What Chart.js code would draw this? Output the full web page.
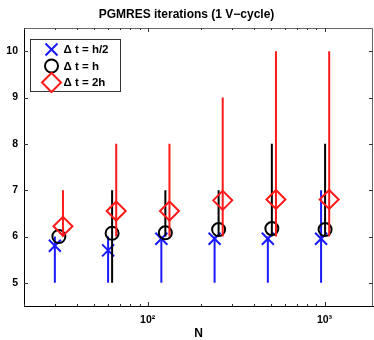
<!DOCTYPE html>
<html>
<head>
<meta charset="utf-8">
<script src="https://cdn.jsdelivr.net/npm/chart.js@4.4.0/dist/chart.umd.min.js"></script>
<style>
  html, body { margin: 0; padding: 0; background: #fff; }
  #wrap { width: 374px; height: 340px; }
</style>
</head>
<body>
<div id="wrap"><canvas id="pgmresChart" width="374" height="340"></canvas></div>
<script>
// problem sizes
const N = [32, 64, 128, 256, 512, 1024];

// dt = h/2
const halfMean = [5.8, 5.7, 5.95, 5.95, 5.95, 5.95];
const halfMin = [5, 5, 5, 5, 5, 5];
const halfMax = [6, 6, 6, 6, 6, 7];

// dt = h
const hMean = [6.0, 6.07, 6.08, 6.15, 6.17, 6.15];
const hMin = [6, 5, 6, 6, 6, 6];
const hMax = [6, 7, 7, 7, 8, 8];

// dt = 2h
const twoHMean = [6.22, 6.55, 6.55, 6.78, 6.8, 6.8];
const twoHMin = [6, 6, 6, 6, 6, 6];
const twoHMax = [7, 8, 8, 9, 10, 10];

const yTicks = [5, 6, 7, 8, 9, 10];
const xTicks = [100, 1000];
const xTickLabels = ['10\u00b2', '10\u00b3'];
const legendLabels = ['\u0394 t = h/2', '\u0394 t = h', '\u0394 t = 2h'];

// series are nudged sideways so the bars don't sit on top of each other
const shift = { half: 0.934, h: 0.984, twoH: 1.038 };

const BLUE = '#1a1aff';
const BLACK = '#000000';
const RED = '#ff1a1a';
const FONT = 'Liberation Sans, Arial, Helvetica, sans-serif';

// vertical min..max lines, broken up with nulls
function barPoints(mins, maxs, f) {
  const pts = [];
  N.forEach((n, i) => {
    pts.push({ x: n * f, y: mins[i] });
    pts.push({ x: n * f, y: maxs[i] });
    pts.push({ x: n * f, y: null });
  });
  return pts;
}

function meanPoints(means, f) {
  return N.map((n, i) => ({ x: n * f, y: means[i] }));
}

function errSet(mins, maxs, f, color, order) {
  return {
    type: 'line',
    data: barPoints(mins, maxs, f),
    borderColor: color,
    borderWidth: 2,
    pointRadius: 0,
    spanGaps: false,
    fill: false,
    order: order
  };
}

function markSet(label, means, f, color, style, radius, order) {
  return {
    label: label,
    type: 'scatter',
    data: meanPoints(means, f),
    borderColor: color,
    backgroundColor: 'rgba(0,0,0,0)',
    pointStyle: style,
    pointRadius: radius,
    pointHoverRadius: radius,
    pointBorderWidth: 2,
    order: order
  };
}

const markers = [
  { color: BLUE, style: 'crossRot', radius: 8.5 },
  { color: BLACK, style: 'circle', radius: 6.5 },
  { color: RED, style: 'rectRot', radius: 9.5 }
];

// box, inward ticks, x labels and legend like the matlab figure
const matlabBox = {
  id: 'matlabBox',
  afterDatasetsDraw(chart) {
    const { ctx, chartArea: a, scales } = chart;
    ctx.save();
    ctx.lineWidth = 1;
    ctx.strokeStyle = '#666';
    ctx.beginPath();
    ctx.moveTo(a.left, a.top + 0.5);
    ctx.lineTo(a.right - 0.5, a.top + 0.5);
    ctx.lineTo(a.right - 0.5, a.bottom);
    ctx.stroke();

    ctx.strokeStyle = '#333';
    ctx.beginPath();
    yTicks.forEach(v => {
      const y = Math.round(scales.y.getPixelForValue(v)) + 0.5;
      ctx.moveTo(a.left, y); ctx.lineTo(a.left + 4, y);
      ctx.moveTo(a.right, y); ctx.lineTo(a.right - 4, y);
    });
    for (let d = 10; d <= 1000; d *= 10) {
      for (let k = 1; k <= 9; k++) {
        const v = d * k;
        if (v < scales.x.min || v > scales.x.max) continue;
        const len = k === 1 ? 4 : 2;
        const x = Math.round(scales.x.getPixelForValue(v)) + 0.5;
        ctx.moveTo(x, a.bottom); ctx.lineTo(x, a.bottom - len);
        ctx.moveTo(x, a.top); ctx.lineTo(x, a.top + len);
      }
    }
    ctx.stroke();

    ctx.fillStyle = '#000';
    ctx.font = 'bold 10.5px ' + FONT;
    ctx.textAlign = 'center';
    ctx.textBaseline = 'middle';
    xTicks.forEach((v, i) => {
      ctx.fillText(xTickLabels[i], scales.x.getPixelForValue(v), a.bottom + 14);
    });
    ctx.restore();
  },
  afterDraw(chart) {
    const { ctx, chartArea: a } = chart;
    const bx = a.left + 6.5, by = a.top + 11.5, bw = 90, bh = 52;
    ctx.save();
    ctx.fillStyle = '#fff';
    ctx.fillRect(bx, by, bw, bh);
    ctx.strokeStyle = '#333';
    ctx.lineWidth = 1;
    ctx.strokeRect(bx, by, bw, bh);
    ctx.font = 'bold 11.5px ' + FONT;
    ctx.textBaseline = 'middle';
    ctx.textAlign = 'left';
    markers.forEach((m, i) => {
      const cy = by + 10 + i * 16.5;
      ctx.strokeStyle = m.color;
      ctx.fillStyle = 'rgba(0,0,0,0)';
      ctx.lineWidth = 2;
      Chart.helpers.drawPoint(ctx, { pointStyle: m.style, radius: m.radius, rotation: 0, borderWidth: 2 }, bx + 21, cy);
      ctx.fillStyle = '#000';
      ctx.fillText(legendLabels[i], bx + 33, cy + 0.5);
    });
    ctx.restore();
  }
};

const ctx = document.getElementById('pgmresChart').getContext('2d');
const myChart = new Chart(ctx, {
  data: {
    datasets: [
      errSet(halfMin, halfMax, shift.half, BLUE, 6),
      markSet(legendLabels[0], halfMean, shift.half, BLUE, 'crossRot', 8.5, 5),
      errSet(hMin, hMax, shift.h, BLACK, 4),
      markSet(legendLabels[1], hMean, shift.h, BLACK, 'circle', 6.5, 3),
      errSet(twoHMin, twoHMax, shift.twoH, RED, 2),
      markSet(legendLabels[2], twoHMean, shift.twoH, RED, 'rectRot', 9.5, 1)
    ]
  },
  options: {
    responsive: false,
    animation: false,
    layout: { autoPadding: false, padding: { left: 0, right: 1, top: 0, bottom: 0 } },
    plugins: {
      legend: { display: false },
      tooltip: { enabled: false },
      title: {
        display: true,
        text: 'PGMRES iterations (1 V\u2212cycle)',
        color: '#000',
        font: { family: FONT, size: 12, weight: 'bold', lineHeight: 1.2 },
        padding: { top: 7.3, bottom: 6.3 }
      }
    },
    scales: {
      x: {
        type: 'logarithmic',
        position: 'bottom',
        min: 20,
        max: 1880,
        grid: { display: false, drawTicks: false },
        border: { display: true, color: '#000', width: 1 },
        afterBuildTicks: s => { s.ticks = xTicks.map(v => ({ value: v, major: true })); },
        afterFit: s => { s.height = 34; },
        // labels drawn by matlabBox
        ticks: { display: false },
        title: {
          display: true,
          text: 'N',
          color: '#000',
          font: { family: FONT, size: 12, weight: 'bold', lineHeight: 1 },
          padding: { top: 0, bottom: 0 }
        }
      },
      y: {
        min: 4.5,
        max: 10.5,
        grid: { display: false, drawTicks: false },
        border: { display: true, color: '#000', width: 1 },
        afterBuildTicks: s => { s.ticks = yTicks.map(v => ({ value: v })); },
        afterFit: s => { s.width = 24; },
        ticks: {
          color: '#000',
          padding: 6,
          font: { family: FONT, size: 10.5, weight: 'bold' }
        }
      }
    }
  },
  plugins: [matlabBox]
});
</script>
</body>
</html>
